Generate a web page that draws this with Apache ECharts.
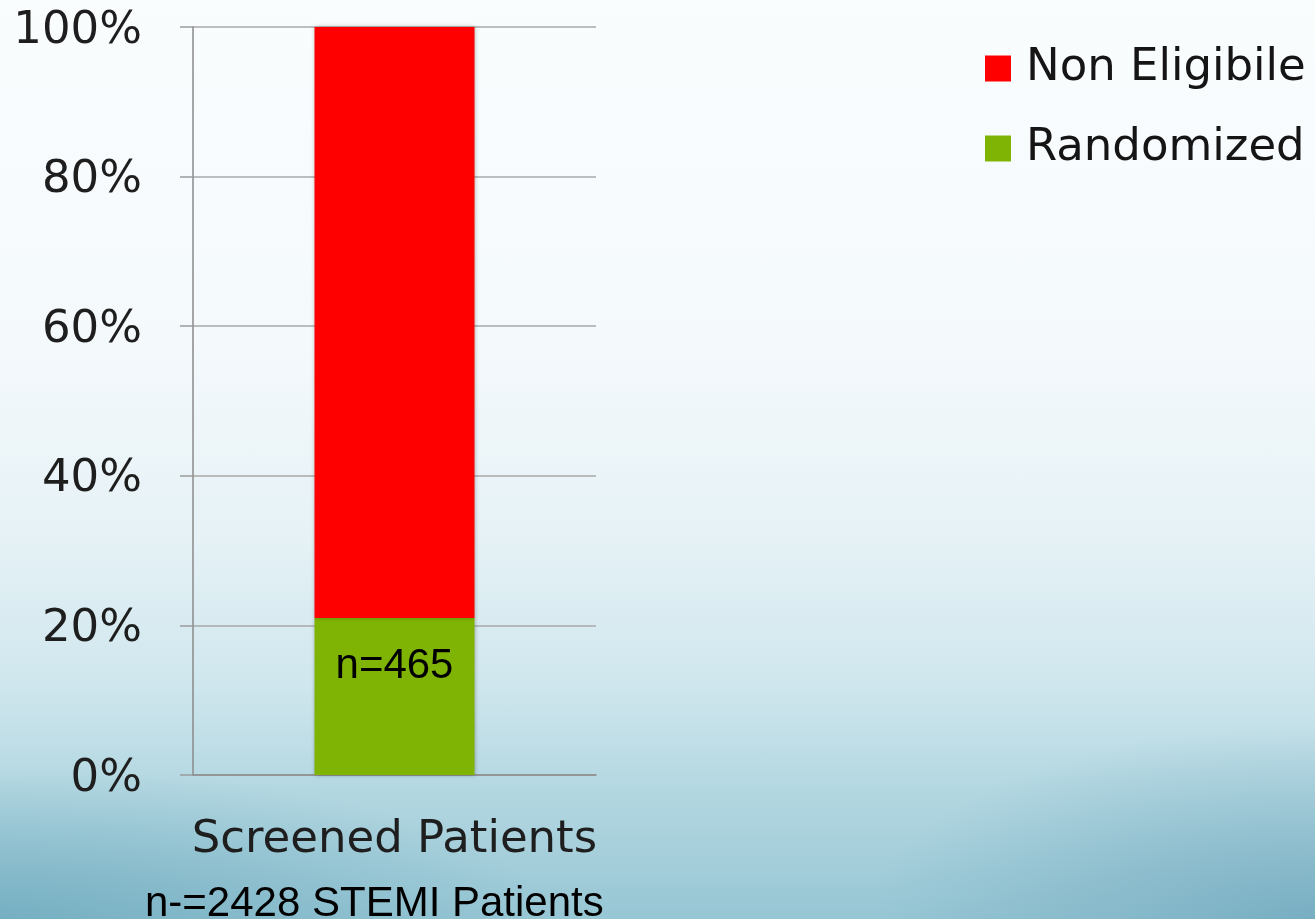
<!DOCTYPE html>
<html>
<head>
<meta charset="utf-8">
<title>Screened Patients</title>
<script src="https://cdn.jsdelivr.net/npm/echarts@6/dist/echarts.min.js"></script>
<style>
  html, body {
    margin: 0;
    padding: 0;
  }
  body {
    width: 1315px;
    height: 919px;
    overflow: hidden;
    background:
      radial-gradient(ellipse 55% 22% at 0% 100%, rgba(95, 160, 182, 0.6), rgba(95, 160, 182, 0) 75%),
      radial-gradient(ellipse 45% 28% at 100% 100%, rgba(95, 155, 180, 0.55), rgba(95, 155, 180, 0) 75%),
      linear-gradient(to bottom, #fafdfe 0%, #f4f9fc 38%, #e6f2f6 58%, #d0e7ee 74%, #b3d7e1 86%, #97c6d4 100%);
  }
  #chart {
    width: 1315px;
    height: 919px;
  }
</style>
</head>
<body>
<div id="chart"></div>
<script>
// data
const categories = ['Screened Patients']
const randomized = [21]
const nonEligible = [79]
const barLabels = ['n=465']
const yTicks = [0, 20, 40, 60, 80, 100]
const footnote = 'n-=2428 STEMI Patients'

const chart = echarts.init(document.getElementById('chart'))

chart.setOption({
  backgroundColor: 'transparent',
  animation: false,
  grid: {
    left: 193,
    right: 719,
    top: 27,
    bottom: 144,
  },
  legend: {
    data: ['Non Eligibile', 'Randomized'],
    orient: 'vertical',
    left: 985,
    top: 46,
    padding: 0,
    icon: 'rect',
    itemWidth: 26,
    itemHeight: 26,
    itemGap: 35,
    textStyle: {
      fontFamily: 'DejaVu Sans',
      fontSize: 45,
      color: '#151515',
      lineHeight: 44,
      padding: [0, 0, 0, 10],
    },
  },
  xAxis: {
    type: 'category',
    data: categories,
    axisLine: {
      lineStyle: { color: '#8a8a8a', width: 1.5 },
    },
    axisTick: {
      length: 17,
      lineStyle: { color: '#8a8a8a', width: 1.5 },
    },
    axisLabel: {
      margin: 43,
      fontFamily: 'DejaVu Sans',
      fontSize: 45,
      color: '#1e1e1e',
    },
  },
  yAxis: {
    type: 'value',
    min: yTicks[0],
    max: yTicks[yTicks.length - 1],
    interval: 20,
    axisLine: {
      show: true,
      lineStyle: { color: '#8a8a8a', width: 1.5 },
    },
    axisTick: {
      show: true,
      length: 13,
      lineStyle: { color: '#9a9a9a', width: 1.5 },
    },
    splitLine: {
      lineStyle: { color: '#a8a8a8', width: 1.5 },
    },
    axisLabel: {
      margin: 51,
      verticalAlign: 'top',
      lineHeight: 8,
      fontFamily: 'DejaVu Sans',
      fontSize: 45,
      color: '#1e1e1e',
      formatter: '{value}%',
    },
  },
  series: [
    {
      name: 'Randomized',
      type: 'bar',
      stack: 'total',
      data: randomized,
      barWidth: 160,
      itemStyle: {
        color: '#80b404',
        shadowBlur: 4,
        shadowColor: 'rgba(0, 0, 0, 0.3)',
      },
      label: {
        show: true,
        position: 'insideTop',
        distance: 28,
        fontFamily: 'Arial, Liberation Sans',
        fontSize: 42,
        color: '#000',
        formatter: (p) => barLabels[p.dataIndex],
      },
    },
    {
      name: 'Non Eligibile',
      type: 'bar',
      stack: 'total',
      data: nonEligible,
      barWidth: 160,
      itemStyle: {
        color: '#ff0000',
        shadowBlur: 4,
        shadowColor: 'rgba(0, 0, 0, 0.3)',
      },
    },
  ],
  graphic: [
    {
      type: 'text',
      left: 145,
      top: 883,
      style: {
        text: footnote,
        fontFamily: 'Arial, Liberation Sans',
        fontSize: 42,
        fill: '#000',
      },
    },
  ],
})
</script>
</body>
</html>
